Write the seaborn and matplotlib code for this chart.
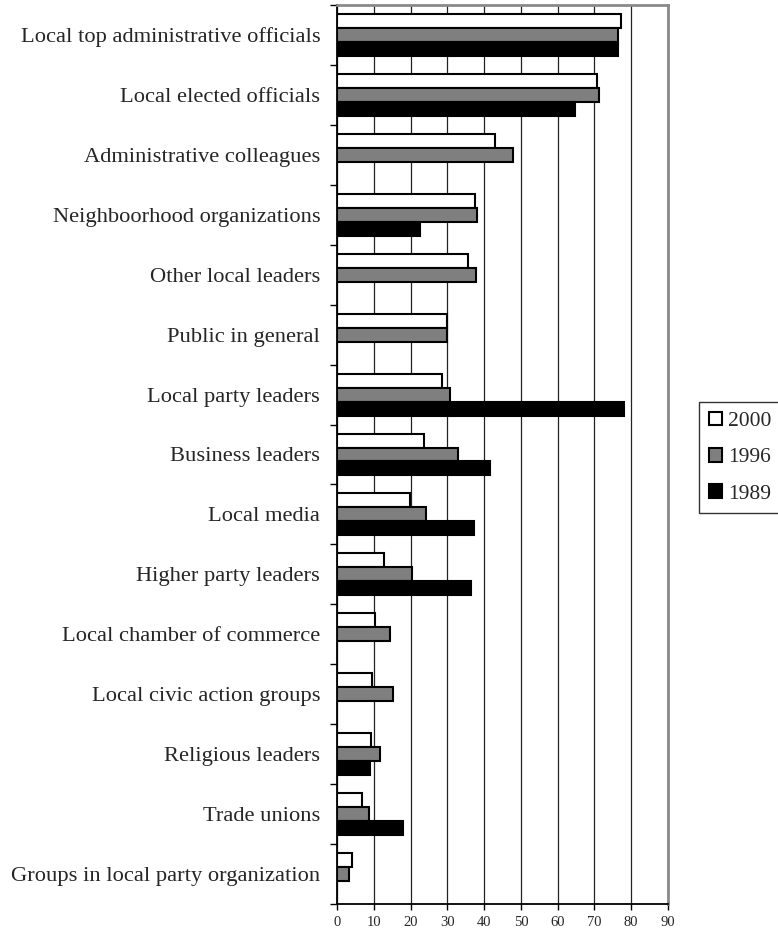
import pandas as pd
import numpy as np
import matplotlib
matplotlib.use("Agg")
import matplotlib.pyplot as plt
import seaborn as sns

# categories, top to bottom
groups = [
    "Local top administrative officials",
    "Local elected officials",
    "Administrative colleagues",
    "Neighboorhood organizations",
    "Other local leaders",
    "Public in general",
    "Local party leaders",
    "Business leaders",
    "Local media",
    "Higher party leaders",
    "Local chamber of commerce",
    "Local civic action groups",
    "Religious leaders",
    "Trade unions",
    "Groups in local party organization",
]

years = ["2000", "1996", "1989"]
vals_2000 = [77.2, 70.6, 42.9, 37.5, 35.7, 29.9, 28.6, 23.7, 19.8, 12.7, 10.3, 9.6, 9.2, 6.8, 4.2]
vals_1996 = [76.5, 71.3, 47.9, 38.1, 37.9, 29.9, 30.7, 32.9, 24.1, 20.3, 14.3, 15.1, 11.6, 8.7, 3.3]
vals_1989 = [76.3, 64.7, np.nan, 22.5, np.nan, np.nan, 78.0, 41.6, 37.2, 36.4, np.nan, np.nan, 9.1, 18.0, np.nan]
xticks = list(range(0, 100, 10))

df = pd.DataFrame({
    "group": groups * 3,
    "year": np.repeat(years, len(groups)),
    "value": vals_2000 + vals_1996 + vals_1989,
})

sns.set_style("white")
plt.rcParams["font.family"] = ["Liberation Serif", "DejaVu Serif"]

fig = plt.figure(figsize=(7.78, 9.35), dpi=100)
ax = fig.add_axes([337 / 778, 1 - 904 / 935, (668 - 337) / 778, (904 - 5) / 935])

sns.barplot(data=df, y="group", x="value", hue="year", order=groups, hue_order=years,
            palette=["white", "#7f7f7f", "black"], orient="h", width=0.7,
            edgecolor="black", linewidth=1.5, ax=ax, zorder=3)

ax.set_xlim(0, 90)
ax.set_ylim(len(groups) - 0.5, -0.5)
ax.set_xticks(xticks)
ax.set_xticklabels([str(t) for t in xticks], fontsize=10.5)
ax.xaxis.grid(True, color="#222222", linewidth=0.9, zorder=0)
ax.yaxis.grid(False)
ax.set_axisbelow(True)
ax.set_xlabel("")
ax.set_ylabel("")

# category labels without marks, marks at the group boundaries
ax.tick_params(axis="y", which="major", length=0, pad=12, labelsize=16.2)
ax.set_yticks(np.arange(len(groups) + 1) - 0.5, minor=True)
ax.tick_params(axis="y", which="minor", length=5, width=1, color="black", direction="out", left=True)
ax.tick_params(axis="x", which="major", length=4, width=1, color="black", direction="out",
               bottom=True, pad=5)

for side in ["left", "bottom"]:
    ax.spines[side].set_color("black")
    ax.spines[side].set_linewidth(1.3)
for side in ["top", "right"]:
    ax.spines[side].set_visible(True)
    ax.spines[side].set_color("#8a8a8a")
    ax.spines[side].set_linewidth(2)

handles, labels = ax.get_legend_handles_labels()
ax.get_legend().remove()
leg = fig.legend(handles, labels, loc="upper left", bbox_to_anchor=(699 / 778, 1 - 402 / 935),
                 fontsize=15.5, frameon=True, fancybox=False, handlelength=0.6, handleheight=0.6,
                 handletextpad=0.3, labelspacing=0.78, borderpad=0.45, borderaxespad=0)
leg.get_frame().set_edgecolor("black")
leg.get_frame().set_linewidth(1)

fig.savefig("out.png", dpi=100)
